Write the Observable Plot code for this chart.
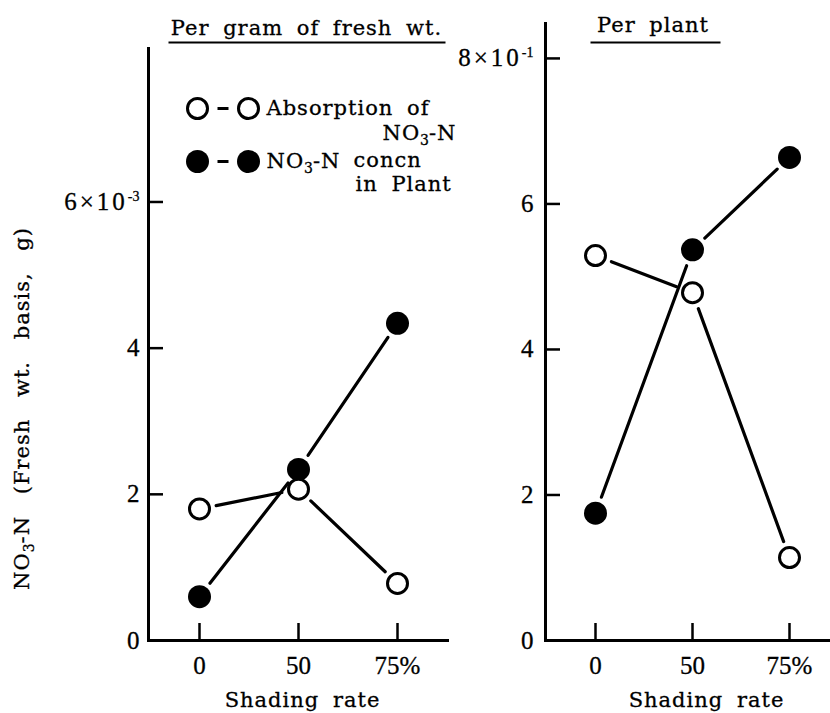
<!DOCTYPE html>
<html>
<head>
<meta charset="utf-8">
<script src="https://cdn.jsdelivr.net/npm/d3@7"></script>
<script src="https://cdn.jsdelivr.net/npm/@observablehq/plot@0.6"></script>
<style>
  html, body { margin: 0; padding: 0; background: #fff; overflow: hidden; }
  #chart { position: relative; width: 830px; height: 713px; background: #fff; }
  #chart svg { position: absolute; top: 0; }
  #chart svg text { font-family: "DejaVu Serif", serif; font-size: 21px; letter-spacing: 1px; word-spacing: 6px; fill: #000; stroke: #000; stroke-width: 0.3px; }
</style>
</head>
<body>
<div id="chart"></div>
<script>
// ---- data ----
const shading = ["0", "50", "75%"];
// Per gram of fresh wt. (units of 10^-3 g)
const absorptionPerGram = [1.80, 2.07, 0.78];
const concnPerGram = [0.60, 2.34, 4.34];
// Per plant (units of 10^-1 g)
const absorptionPerPlant = [5.29, 4.78, 1.14];
const concnPerPlant = [1.75, 5.37, 6.64];

const perGramTicks = [0, 2, 4, 6];
const perGramTickLabels = ["0", "2", "4", "6×10⁻³"];
const perPlantTicks = [0, 2, 4, 6, 8];
const perPlantTickLabels = ["0", "2", "4", "6", "8×10⁻¹"];

const titles = ["Per gram of fresh wt.", "Per plant"];
const xTitle = "Shading rate";
const yTitle = "NO₃-N (Fresh wt. basis, g)";
const legendLabels = ["Absorption of", "NO₃-N", "NO₃-N", "concn", "in Plant"];

// ---- helpers ----
const rowsOf = (vals) => shading.map((s, i) => ({s, v: vals[i]}));
const segsOf = (vals) => d3.pairs(rowsOf(vals)).map(([a, b]) => ({x1: a.s, y1: a.v, x2: b.s, y2: b.v}));
const hline = {draw(ctx, size) { const r = Math.sqrt(size / Math.PI); ctx.moveTo(-r, 0); ctx.lineTo(r, 0); }};

function seriesMarks(absorption, concn) {
  return [
    Plot.arrow(segsOf(absorption), {x1: "x1", y1: "y1", x2: "x2", y2: "y2", headLength: 0, inset: 17, stroke: "black", strokeWidth: 3.2}),
    Plot.arrow(segsOf(concn), {x1: "x1", y1: "y1", x2: "x2", y2: "y2", headLength: 0, inset: 17, stroke: "black", strokeWidth: 3.2}),
    Plot.dot(rowsOf(concn), {x: "s", y: "v", r: 11.5, fill: "black", stroke: "none"}),
    Plot.dot(rowsOf(absorption), {x: "s", y: "v", r: 10, fill: "white", stroke: "black", strokeWidth: 3})
  ];
}

const baseStyle = "font-family: 'DejaVu Serif', serif; font-size: 21px; color: black; background: transparent; overflow: visible;";

// ---- left panel ----
const leftW = 455, H = 713;
const left = Plot.plot({
  width: leftW, height: H,
  marginLeft: 148, marginRight: 8, marginTop: 48, marginBottom: 73,
  style: baseStyle,
  x: {type: "point", domain: shading, padding: 0.5, axis: null},
  y: {domain: [0, 8.1], axis: null},
  marks: [
    Plot.frame({anchor: "left", strokeWidth: 3}),
    Plot.frame({anchor: "bottom", strokeWidth: 3}),
    Plot.tickY(perGramTicks, {y: d => d, insetRight: 299 - 15, strokeWidth: 2.5}),
    Plot.tickX(shading, {x: d => d, insetTop: 592 - 17, strokeWidth: 2.5}),
    Plot.axisY({ticks: perGramTicks, tickSize: 0, tickPadding: 9, tickFormat: d => perGramTickLabels[perGramTicks.indexOf(d)], label: null}),
    Plot.axisX({tickSize: 0, tickPadding: 16, label: null}),
    Plot.text([xTitle], {text: d => d, frameAnchor: "bottom", dx: 4.5, dy: 60, lineAnchor: "middle"}),
    Plot.text([yTitle], {text: d => d, frameAnchor: "left", dx: -126, dy: 64, rotate: -90, textAnchor: "middle", lineAnchor: "middle"}),
    Plot.text([titles[0]], {text: d => d, frameAnchor: "top", dx: 8.5, dy: -20, lineAnchor: "middle"}),
    Plot.dot([0], {frameAnchor: "top", dx: 9, dy: -6, symbol: hline, r: 138.5, stroke: "black", strokeWidth: 2}),
    // legend
    Plot.dot([0], {frameAnchor: "top-left", dx: 49, dy: 60, r: 10, fill: "white", stroke: "black", strokeWidth: 3}),
    Plot.dot([0], {frameAnchor: "top-left", dx: 74.5, dy: 60, symbol: hline, r: 5.5, stroke: "black", strokeWidth: 3}),
    Plot.dot([0], {frameAnchor: "top-left", dx: 100, dy: 60, r: 10, fill: "white", stroke: "black", strokeWidth: 3}),
    Plot.dot([0], {frameAnchor: "top-left", dx: 49, dy: 113, r: 11.5, fill: "black"}),
    Plot.dot([0], {frameAnchor: "top-left", dx: 74.5, dy: 113, symbol: hline, r: 5.5, stroke: "black", strokeWidth: 3}),
    Plot.dot([0], {frameAnchor: "top-left", dx: 100, dy: 113, r: 11.5, fill: "black"}),
    Plot.text([legendLabels[0]], {text: d => d, frameAnchor: "top-left", dx: 118, dy: 60, textAnchor: "start", lineAnchor: "middle"}),
    Plot.text([legendLabels[1]], {text: d => d, frameAnchor: "top-left", dx: 234, dy: 85, textAnchor: "start", lineAnchor: "middle"}),
    Plot.text([legendLabels[2]], {text: d => d, frameAnchor: "top-left", dx: 118, dy: 113, textAnchor: "start", lineAnchor: "middle"}),
    Plot.text([legendLabels[3]], {text: d => d, frameAnchor: "top-left", dx: 205, dy: 112, textAnchor: "start", lineAnchor: "middle"}),
    Plot.text([legendLabels[4]], {text: d => d, frameAnchor: "top-left", dx: 207, dy: 136, textAnchor: "start", lineAnchor: "middle"}),
    ...seriesMarks(absorptionPerGram, concnPerGram)
  ]
});

// ---- right panel ----
const rightX = 455, rightW = 375;
const right = Plot.plot({
  width: rightW, height: H,
  marginLeft: 90, marginRight: 0, marginTop: 23, marginBottom: 73,
  style: baseStyle,
  x: {type: "point", domain: shading, padding: 0.5, range: [90, 383], axis: null},
  y: {domain: [0, 8.48], axis: null},
  marks: [
    Plot.frame({anchor: "left", strokeWidth: 3}),
    Plot.frame({anchor: "bottom", strokeWidth: 3}),
    Plot.tickY(perPlantTicks, {y: d => d, insetRight: 285 - 15, strokeWidth: 2.5}),
    Plot.tickX(shading, {x: d => d, insetTop: 617 - 17, strokeWidth: 2.5}),
    Plot.axisY({ticks: perPlantTicks, tickSize: 0, tickPadding: 12, tickFormat: d => perPlantTickLabels[perPlantTicks.indexOf(d)], label: null}),
    Plot.axisX({tickSize: 0, tickPadding: 16, label: null}),
    Plot.text([xTitle], {text: d => d, frameAnchor: "bottom", dx: 18.5, dy: 60, lineAnchor: "middle"}),
    Plot.text([titles[1]], {text: d => d, frameAnchor: "top", dx: -35, dy: 2, lineAnchor: "middle"}),
    Plot.dot([0], {frameAnchor: "top", dx: -32.5, dy: 19, symbol: hline, r: 65, stroke: "black", strokeWidth: 2}),
    ...seriesMarks(absorptionPerPlant, concnPerPlant)
  ]
});

// ---- typographic touch-ups ----
function styleTickLabels(svg) {
  svg.querySelectorAll('g[aria-label$="tick label"] text').forEach(t => {
    t.style.fontFamily = "'Liberation Serif', serif";
    t.style.fontSize = "25px";
    t.style.letterSpacing = t.textContent.includes("×") ? "3px" : "0px";
  });
  svg.querySelectorAll("text").forEach(t => {
    if (t.textContent.includes("Fresh")) t.style.wordSpacing = "14px";
  });
}
function scriptify(svg) {
  const ns = "http://www.w3.org/2000/svg";
  const walker = document.createTreeWalker(svg, NodeFilter.SHOW_TEXT);
  const nodes = [];
  while (walker.nextNode()) nodes.push(walker.currentNode);
  const map = {"₃": ["sub", "3"], "⁻": ["sup", "-"], "³": ["sup", "3"], "¹": ["sup", "1"]};
  for (const node of nodes) {
    const s = node.nodeValue;
    if (!/[₃⁻³¹]/.test(s)) continue;
    const runs = [];
    for (const ch of s) {
      const [type, t] = map[ch] || ["n", ch];
      if (runs.length && runs[runs.length - 1].type === type) runs[runs.length - 1].text += t;
      else runs.push({type, text: t});
    }
    const frag = document.createDocumentFragment();
    for (const r of runs) {
      const ts = document.createElementNS(ns, "tspan");
      ts.textContent = r.text;
      if (r.type !== "n") {
        ts.setAttribute("font-size", "14px");
        ts.setAttribute("letter-spacing", "0px");
        ts.setAttribute("baseline-shift", r.type === "sub" ? "-5" : "9");
      }
      frag.appendChild(ts);
    }
    node.parentNode.replaceChild(frag, node);
  }
}
for (const svg of [left, right]) { styleTickLabels(svg); scriptify(svg); }

left.style.left = "0px";
right.style.left = rightX + "px";
const chart = document.getElementById("chart");
chart.appendChild(left);
chart.appendChild(right);
</script>
</body>
</html>
